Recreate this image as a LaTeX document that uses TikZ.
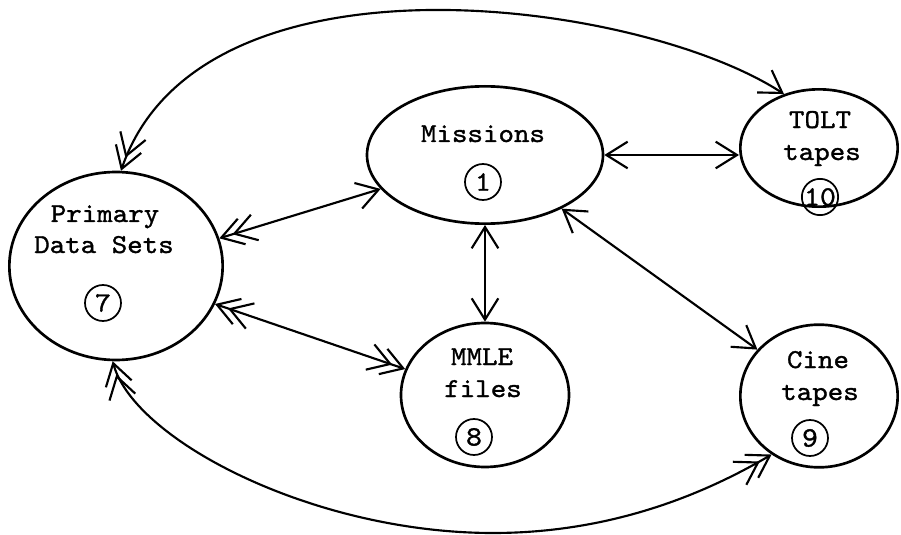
\documentclass[tikz,border=0pt]{standalone}
\usepackage{fontspec}
\newfontfamily\tw{lmmono10-regular.otf}[FakeStretch=1.08,FakeBold=1.2]
\usetikzlibrary{shapes.geometric,arrows.meta}
\begin{document}
\begin{tikzpicture}[x=0.75pt,y=-0.75pt,
  blob/.style={ellipse,draw,line width=2pt,inner sep=0pt},
  lbl/.style={font=\tw\fontsize{20.5}{24}\selectfont,inner sep=0pt,anchor=base},
  tag/.style={circle,draw,line width=1.3pt,minimum size=27pt,inner sep=0pt,
              font=\tw\fontsize{21}{21}\selectfont},
  link/.style={line width=1.6pt},
  hd/.tip={Straight Barb[length=16pt,width=20pt]},
  hdd/.tip={Straight Barb[length=16pt,width=20pt,sep=-8pt]Straight Barb[length=16pt,width=20pt]},
]
\path[use as bounding box] (0,0) rectangle (901,535);

% data stores
\node[blob,minimum width=160pt,minimum height=141pt] (pds)  at (116,266) {};
\node[blob,minimum width=177pt,minimum height=103pt] (mis)  at (485,155) {};
\node[blob,minimum width=126pt,minimum height=108pt] (mml)  at (485,395) {};
\node[blob,minimum width=118pt,minimum height=88pt]  (tolt) at (819,148) {};
\node[blob,minimum width=118pt,minimum height=107pt] (cine) at (819,396) {};

% labels
\node[lbl] (pdsa)  at (105,222) {Primary};
\node[lbl] (pdsb)  at (104,253) {Data Sets};
\node[lbl] (misa)  at (483,142) {Missions};
\node[lbl] (mmla)  at (482,365) {MMLE};
\node[lbl] (mmlb)  at (483,397) {files};
\node[lbl] (tolta) at (820,128) {TOLT};
\node[lbl] (toltb) at (822,160) {tapes};
\node[lbl] (cinea) at (818,368) {Cine};
\node[lbl] (cineb) at (820,400) {tapes};

% reference numbers
\node[tag] (n7)  at (103,303) {7};
\node[tag] (n1)  at (483,182) {1};
\node[tag] (n8)  at (474,437) {8};
\node[tag] (n10) at (820,197) {10};
\node[tag] (n9)  at (810,438) {9};

% flows
\coordinate (low) at (493,533);
\draw[link,hdd-hd]  (pds.15)  -- (mis.198);
\draw[link,hdd-hdd] (pds.-21) -- (mml.162);
\draw[link,hd-hd]   (mis.south) -- (mml.north);
\draw[link,hd-hd]   (mis.east) -- (mis.east -| tolt.west);
\draw[link,hd-hd]   (mis.-35) -- (cine.143);
\draw[link,hdd-hd]  (pds.87) .. controls (200,-60) and (640,0) .. (tolt.123);
\draw[link,hdd-hdd] (pds.-92) .. controls (134,440) and (313,533) .. (low)
                              .. controls (613,533) and (706,493) .. (cine.-129);
\end{tikzpicture}
\end{document}
